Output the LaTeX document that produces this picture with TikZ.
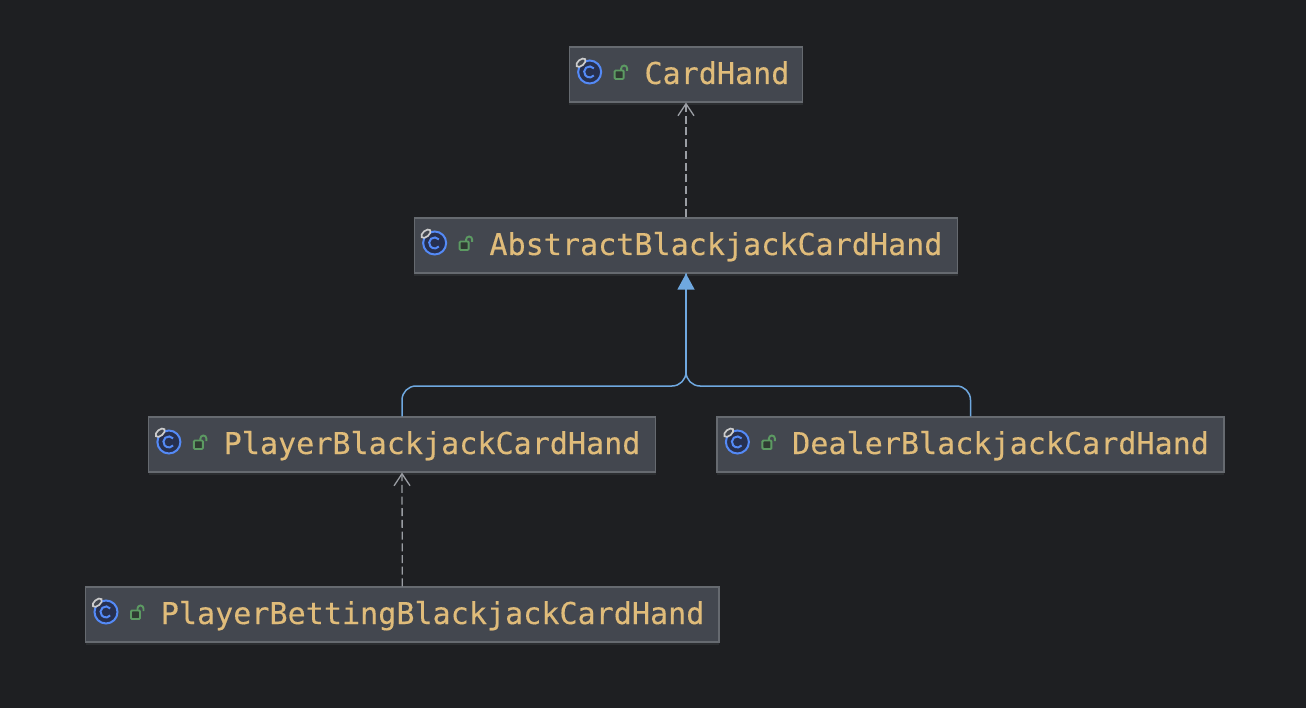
\documentclass[tikz,border=0pt]{standalone}
\usepackage{fontspec}
\setmonofont[FakeBold=0.25]{DejaVu Sans Mono}
\usetikzlibrary{arrows.meta,shadows}
\definecolor{bgc}{HTML}{1E1F22}
\definecolor{boxc}{HTML}{43474F}
\definecolor{edgec}{HTML}{666A70}
\definecolor{shadec}{HTML}{2B2D30}
\definecolor{namec}{HTML}{E0BC7A}
\definecolor{iconc}{HTML}{548AF7}
\definecolor{iconfill}{HTML}{27304F}
\definecolor{lockc}{HTML}{5C9A62}
\definecolor{lockfill}{HTML}{2F3A32}
\definecolor{dashc}{HTML}{9A9DA3}
\definecolor{treec}{HTML}{6FA8E0}
\tikzset{
  classbox/.style={draw=edgec,line width=1.2pt,fill=boxc,inner sep=0pt,
    minimum height=55pt,text=namec,font=\ttfamily\fontsize{30.1}{36}\selectfont,
    text height=37pt,text depth=18pt,
    drop shadow={shadow xshift=0pt,shadow yshift=-3pt,fill=shadec,opacity=1}},
  realize/.style={draw=dashc,line width=1.3pt,dash pattern=on 8pt off 3.7pt,
    -{Straight Barb[length=12pt,width=16pt,line width=1.3pt]}},
  extend/.style={draw=treec,line width=1.5pt,rounded corners=14pt},
  tipped/.style={-{Triangle[length=16pt,width=17pt,fill=treec]}},
  icon/.pic={
    \draw[iconc,line width=2pt,fill=iconfill] (0,0) circle (11.5pt);
    \draw[iconc,line width=2pt] (4.2,-3.6) arc[start angle=40,end angle=320,radius=5.5pt];
    \draw[draw=white!80!black,line width=1.7pt,fill=boxc,rotate around={40:(-8.7,-9.3)}] (-8.7,-9.3) ellipse (5.5pt and 3pt);
    \draw[lockc,line width=1.9pt,fill=lockfill,rounded corners=1pt] (25,-1.5) rectangle (34,7);
    \draw[lockc,line width=1.9pt] (31.5,-1.5) -- (31.5,-3.5) arc[start angle=180,end angle=0,radius=3pt] -- (37.5,-1);
  }
}
\newcommand{\classnode}[4]{%
  \node[classbox,minimum width=#3pt] (#1) at (#2) {\makebox[#3pt][l]{\hspace*{75.2pt}#4}};
  \pic at ([xshift=21pt,yshift=2.5pt]#1.west) {icon};
}
\begin{document}
\begin{tikzpicture}[x=1pt,y=-1pt]
  \fill[bgc] (0,0) rectangle (1306,708);
  \useasboundingbox (0,0) rectangle (1306,708);
  \classnode{cardhand}{686,74.5}{233.5}{CardHand}
  \classnode{abstract}{686,245.5}{543.5}{AbstractBlackjackCardHand}
  \classnode{player}{402,444.5}{507}{PlayerBlackjackCardHand}
  \classnode{dealer}{970.5,444.5}{507}{DealerBlackjackCardHand}
  \classnode{betting}{402.3,614.5}{633.4}{PlayerBettingBlackjackCardHand}
  \coordinate (junction) at (686,386);
  \draw[realize] (abstract.north) -- (cardhand.south);
  \draw[realize] (betting.north) -- (player.south);
  \draw[extend] (player.north) |- (junction) -- (abstract.south);
  \draw[extend] (dealer.north) |- (junction) -- (abstract.south);
  \draw[extend,tipped,rounded corners=0pt] (junction) ++(0,-10) -- (abstract.south);
\end{tikzpicture}
\end{document}
